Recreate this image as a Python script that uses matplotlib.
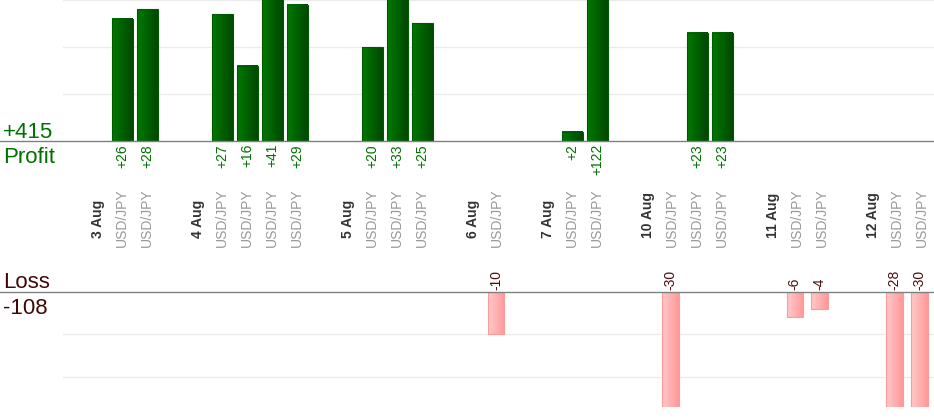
import numpy as np
import matplotlib
matplotlib.use("Agg")
import matplotlib.pyplot as plt
from matplotlib.colors import LinearSegmentedColormap
from matplotlib.lines import Line2D
from matplotlib import transforms

# trade results grouped by day
dates = ["3 Aug", "4 Aug", "5 Aug", "6 Aug", "7 Aug", "10 Aug", "11 Aug", "12 Aug"]
results = [
    [26, 28],
    [27, 16, 41, 29],
    [20, 33, 25],
    [-10],
    [2, 122],
    [-30, 23, 23],
    [-6, -4],
    [-28, -30],
]
pair = "USD/JPY"

plt.rcParams["font.family"] = ["Liberation Sans", "DejaVu Sans"]

W, H = 934, 420
fig = plt.figure(figsize=(W / 100, H / 100), dpi=100)

def px_box(x0, y0, x1, y1):
    # pixel box (top-left origin) -> figure rect
    return [x0 / W, 1 - y1 / H, (x1 - x0) / W, (y1 - y0) / H]

ax_p = fig.add_axes(px_box(63, 0, 934, 141))
ax_l = fig.add_axes(px_box(63, 292, 934, 406.7))

green_cmap = LinearSegmentedColormap.from_list("g", ["#007a00", "#004800"])
red_cmap = LinearSegmentedColormap.from_list("r", ["#ffcaca", "#ff9898"])
grad = np.linspace(0, 1, 64).reshape(1, -1)

# lay out slots: date label, trades, blank gap
date_slots = []
trade_slots = []
trade_vals = []
slot = 0
for d, vals in zip(dates, results):
    date_slots.append((slot, d))
    slot += 1
    for v in vals:
        trade_slots.append(slot)
        trade_vals.append(v)
        slot += 1
    slot += 1

tp = transforms.blended_transform_factory(ax_p.transData, fig.transFigure)
tl = transforms.blended_transform_factory(ax_l.transData, fig.transFigure)

fs = 10
for s, v in zip(trade_slots, trade_vals):
    if v > 0:
        w = 0.83
        ax_p.imshow(grad, cmap=green_cmap, aspect="auto", zorder=2,
                    extent=[s - w / 2, s + w / 2, 0, v], interpolation="bilinear")
        ax_p.bar(s, v, width=w, facecolor="none", edgecolor="#005800",
                 linewidth=0.8, zorder=3)
        ax_p.text(s, 1 - 144 / H, "+%d" % v, transform=tp, rotation=90,
                  ha="center", va="top", color="#007000", fontsize=fs)
    else:
        w = 0.66
        ax_l.imshow(grad, cmap=red_cmap, aspect="auto", zorder=2,
                    extent=[s - w / 2, s + w / 2, v, 0], interpolation="bilinear")
        ax_l.bar(s, v, width=w, facecolor="none", edgecolor="#ff9a9a",
                 linewidth=0.8, zorder=3)
        ax_l.text(s, 1 - 290 / H, "%d" % v, transform=tl, rotation=90,
                  ha="center", va="bottom", color="#4a0d0d", fontsize=fs)
    ax_p.text(s, 1 - 247 / H, pair, transform=tp, rotation=90,
              ha="center", va="bottom", color="#999999", fontsize=fs)

for s, d in date_slots:
    ax_p.text(s + 0.02, 1 - 238 / H, d, transform=tp, rotation=90,
              ha="center", va="bottom", color="#333333", fontsize=fs,
              fontweight="bold")

ax_p.set_xlim(-1.372, 33.468)
ax_p.set_ylim(0, 30)
ax_p.set_yticks([10, 20, 30])
ax_l.set_xlim(-1.39, 33.59)
ax_l.set_ylim(-27, 0)
ax_l.set_yticks([-10, -20])

for ax in (ax_p, ax_l):
    ax.set_xticks([])
    ax.tick_params(left=False, labelleft=False)
    ax.grid(axis="y", color="#ebebeb", linewidth=1)
    ax.set_axisbelow(True)
    for sp in ax.spines.values():
        sp.set_visible(False)
    ax.patch.set_alpha(0)

# baselines across the full width
for yb in (141, 292):
    fig.add_artist(Line2D([0, 1], [1 - yb / H, 1 - yb / H],
                          transform=fig.transFigure, color="#808080", linewidth=1.0))

profit_total = sum(v for v in trade_vals if v > 0)
loss_total = sum(v for v in trade_vals if v < 0)

fig.text(3 / W, 1 - 138 / H, "+%d" % profit_total, color="#007000",
         fontsize=16, va="baseline", ha="left")
fig.text(3 / W, 1 - 163 / H, "Profit", color="#007000",
         fontsize=16, va="baseline", ha="left")
fig.text(3 / W, 1 - 288 / H, "Loss", color="#3f0808",
         fontsize=16, va="baseline", ha="left")
fig.text(3 / W, 1 - 314 / H, "%d" % loss_total, color="#3f0808",
         fontsize=16, va="baseline", ha="left")

fig.savefig("out.png", dpi=100)
